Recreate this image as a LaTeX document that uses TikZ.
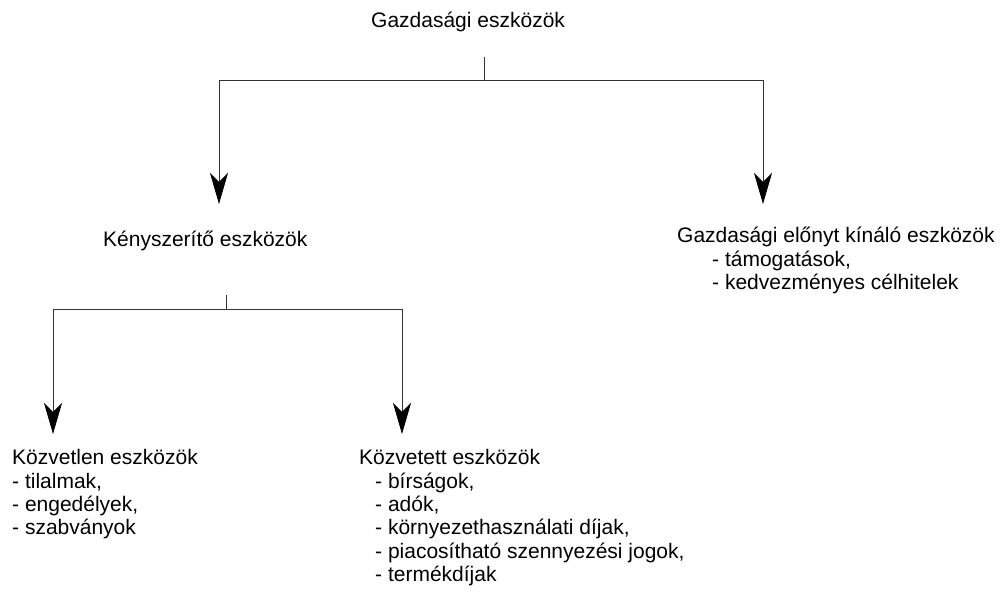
\documentclass[tikz,border=0pt]{standalone}
\usepackage{fontspec}
\setmainfont{Liberation Sans}
\usetikzlibrary{arrows.meta}
\begin{document}
\begin{tikzpicture}[x=1pt,y=-1pt,
  txt/.style={anchor=base west,inner sep=0pt,font=\fontsize{21}{23}\selectfont},
  conn/.style={draw=black!80,line width=0.8pt},
  arr/.style={conn,-{Stealth[length=31pt,width=18pt,inset=9pt,color=black,fill=black]}}]
\useasboundingbox[fill=white] (0,0) rectangle (1005,609);
% texts
\node[txt] (top) at (371,28) {Gazdasági eszközök};
\node[txt] (keny) at (103,247) {Kényszerítő eszközök};
\node[txt] (elony) at (677,243) {Gazdasági előnyt kínáló eszközök};
\foreach \t [count=\i] in {{- támogatások,},{- kedvezményes célhitelek}}
  \node[txt] (el\i) at (712,243+23.5*\i) {\t};
\node[txt] (kozvl) at (12,465) {Közvetlen eszközök};
\foreach \t [count=\i] in {{- tilalmak,},{- engedélyek,},{- szabványok}}
  \node[txt] (kl\i) at (12,465+23.3*\i) {\t};
\node[txt] (kozvt) at (359,465) {Közvetett eszközök};
\foreach \t [count=\i] in {{- bírságok,},{- adók,},{- környezethasználati díjak,},{- piacosítható szennyezési jogok,},{- termékdíjak}}
  \node[txt] (kt\i) at (375,465+23.3*\i) {\t};
% connector points
\coordinate (t1) at (484,57);
\coordinate (j1) at (484,80);
\coordinate (l1) at (219,80);
\coordinate (r1) at (763,80);
\coordinate (la) at (219,204);
\coordinate (ra) at (763,204);
\coordinate (t2) at (226,295);
\coordinate (j2) at (226,309);
\coordinate (l2) at (53,309);
\coordinate (r2) at (402,309);
\coordinate (lb) at (53,434);
\coordinate (rb) at (402,434);
% connectors
\draw[conn] (t1) -- (j1);
\draw[conn] (l1) -- (r1);
\draw[arr] (l1) -- (la);
\draw[arr] (r1) -- (ra);
\draw[conn] (t2) -- (j2);
\draw[conn] (l2) -- (r2);
\draw[arr] (l2) -- (lb);
\draw[arr] (r2) -- (rb);
\end{tikzpicture}
\end{document}
